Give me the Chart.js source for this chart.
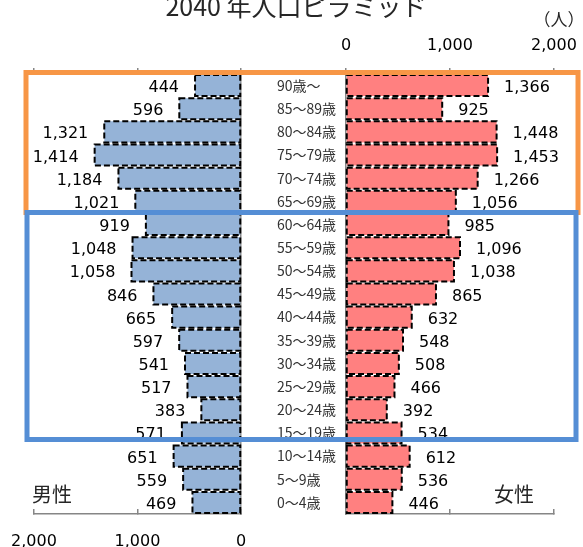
<!DOCTYPE html>
<html lang="ja">
<head>
<meta charset="utf-8">
<title>2040 年人口ピラミッド</title>
<script src="https://cdn.jsdelivr.net/npm/chart.js@4.4.1/dist/chart.umd.min.js"></script>
<style>
  html, body { margin: 0; padding: 0; background: #fff; }
  #wrap { position: relative; width: 583px; height: 547px; overflow: hidden; }
  #wrap canvas { position: absolute; left: 0; top: 0; }
</style>
</head>
<body>
<div id="wrap">
  <canvas id="male" width="583" height="547"></canvas>
  <canvas id="female" width="583" height="547"></canvas>
</div>
<script>
// Age groups, oldest at the top
const ageGroups = ['90歳〜', '85〜89歳', '80〜84歳', '75〜79歳', '70〜74歳', '65〜69歳',
  '60〜64歳', '55〜59歳', '50〜54歳', '45〜49歳', '40〜44歳', '35〜39歳', '30〜34歳',
  '25〜29歳', '20〜24歳', '15〜19歳', '10〜14歳', '5〜9歳', '0〜4歳'];

// Population (persons)
const maleCounts = [444, 596, 1321, 1414, 1184, 1021, 919, 1048, 1058, 846, 665, 597, 541, 517, 383, 571, 651, 559, 469];
const femaleCounts = [1366, 925, 1448, 1453, 1266, 1056, 985, 1096, 1038, 865, 632, 548, 508, 466, 392, 534, 612, 536, 446];

// Axis range and tick spacing
const axisMax = 2000;
const axisStep = 1000;

const AXIS_GRAY = '#868686';
const NUM_FONT = '"DejaVu Sans", sans-serif';
const JP_FONT = '"Noto Sans CJK JP", sans-serif';

Chart.defaults.font.family = NUM_FONT;
Chart.defaults.font.size = 16;
Chart.defaults.color = '#000';

// Keep the plot area exactly where the layout padding puts it
function fixHeight(h) {
  return (s) => { s.height = h; s.paddingLeft = 0; s.paddingRight = 0; };
}

// Dashed outline around every bar plus its value label
const barDecor = {
  id: 'barDecor',
  afterDatasetsDraw(chart, args, opts) {
    const ctx = chart.ctx;
    const meta = chart.getDatasetMeta(0);
    const values = chart.data.datasets[0].data;
    ctx.save();
    ctx.strokeStyle = '#000';
    ctx.lineWidth = 2;
    ctx.setLineDash([6, 3]);
    meta.data.forEach((bar) => {
      const p = bar.getProps(['x', 'y', 'base', 'height'], true);
      const l = Math.min(p.x, p.base), r = Math.max(p.x, p.base);
      ctx.strokeRect(l, p.y - p.height / 2, r - l, p.height);
    });
    ctx.setLineDash([]);
    ctx.fillStyle = '#000';
    ctx.font = '16px ' + NUM_FONT;
    ctx.textBaseline = 'alphabetic';
    meta.data.forEach((bar, i) => {
      const p = bar.getProps(['x', 'y', 'base'], true);
      const dir = p.x < p.base ? -1 : 1;
      ctx.textAlign = dir < 0 ? 'right' : 'left';
      ctx.fillText(values[i].toLocaleString('en-US'), p.x + dir * opts.gap, p.y + 6.5);
    });
    ctx.restore();
  }
};

// Title, unit, sex captions and the two highlight frames
const overlay = {
  id: 'overlay',
  afterDraw(chart) {
    const ctx = chart.ctx;
    ctx.save();
    ctx.fillStyle = '#262626';
    ctx.textBaseline = 'alphabetic';
    ctx.textAlign = 'center';
    ctx.font = '25px ' + JP_FONT;
    ctx.fillText('2040 年人口ピラミッド', 296, 16);
    ctx.font = '17px ' + JP_FONT;
    ctx.fillText('（人）', 559, 26);
    ctx.font = '20px ' + JP_FONT;
    ctx.fillText('男性', 52, 502);
    ctx.fillText('女性', 514, 502);

    ctx.lineWidth = 5;
    ctx.strokeStyle = '#F79646';
    ctx.strokeRect(26, 72.5, 552, 140);
    ctx.strokeStyle = '#558ED5';
    ctx.strokeRect(27, 212.5, 549, 227);
    ctx.restore();
  }
};

const common = {
  responsive: false,
  animation: false,
  locale: 'en-US',
  indexAxis: 'y',
  events: []
};

// Men: bars grow leftwards from the centre
new Chart(document.getElementById('male'), {
  type: 'bar',
  data: {
    labels: ageGroups,
    datasets: [{
      data: maleCounts,
      backgroundColor: '#95B3D7',
      borderWidth: 0,
      barPercentage: 0.91,
      categoryPercentage: 1
    }]
  },
  options: Object.assign({}, common, {
    layout: { padding: { left: 34, right: 342, top: 62, bottom: 0 } },
    plugins: { legend: { display: false }, tooltip: { enabled: false }, barDecor: { gap: 16 } },
    scales: {
      x: {
        type: 'linear', position: 'bottom', reverse: true, min: 0, max: axisMax,
        ticks: { stepSize: axisStep, padding: 23, maxRotation: 0, color: '#000' },
        grid: { drawOnChartArea: false, color: AXIS_GRAY, lineWidth: 1.5, tickLength: -5 },
        border: { color: AXIS_GRAY, width: 1.5 },
        afterFit: fixHeight(33)
      },
      xTop: {
        type: 'linear', axis: 'x', position: 'top', reverse: true, min: 0, max: axisMax,
        ticks: { stepSize: axisStep, display: false },
        grid: { drawOnChartArea: false, color: AXIS_GRAY, lineWidth: 1.5, tickLength: 6 },
        border: { color: AXIS_GRAY, width: 1.5 },
        afterFit: fixHeight(12)
      },
      y: {
        type: 'category', position: 'right',
        grid: { display: false },
        ticks: { display: false },
        border: { color: AXIS_GRAY, width: 1.5 },
        afterFit: (s) => { s.width = 0; }
      }
    }
  }),
  plugins: [barDecor]
});

// Women: bars grow rightwards; age labels sit on this chart's category axis
new Chart(document.getElementById('female'), {
  type: 'bar',
  data: {
    labels: ageGroups,
    datasets: [{
      data: femaleCounts,
      backgroundColor: '#FF8080',
      borderWidth: 0,
      barPercentage: 0.91,
      categoryPercentage: 1
    }]
  },
  options: Object.assign({}, common, {
    layout: { padding: { left: 277, right: 29, top: 34, bottom: 21 } },
    plugins: { legend: { display: false }, tooltip: { enabled: false }, barDecor: { gap: 16 } },
    scales: {
      x: {
        type: 'linear', position: 'top', min: 0, max: axisMax,
        ticks: { stepSize: axisStep, padding: 13, maxRotation: 0, color: '#000' },
        grid: { drawOnChartArea: false, color: AXIS_GRAY, lineWidth: 1.5, tickLength: 6 },
        border: { color: AXIS_GRAY, width: 1.5 },
        afterFit: fixHeight(40)
      },
      xBottom: {
        type: 'linear', axis: 'x', position: 'bottom', min: 0, max: axisMax,
        ticks: { stepSize: axisStep, display: false },
        grid: { drawOnChartArea: false, color: AXIS_GRAY, lineWidth: 1.5, tickLength: -5 },
        border: { color: AXIS_GRAY, width: 1.5 },
        afterFit: fixHeight(12)
      },
      y: {
        type: 'category', position: 'left',
        grid: { display: false },
        ticks: { crossAlign: 'far', color: '#333', font: { family: JP_FONT, size: 14 } },
        border: { color: AXIS_GRAY, width: 1.5 },
        afterFit: (s) => { s.width = 69; }
      }
    }
  }),
  plugins: [barDecor, overlay]
});
</script>
</body>
</html>
